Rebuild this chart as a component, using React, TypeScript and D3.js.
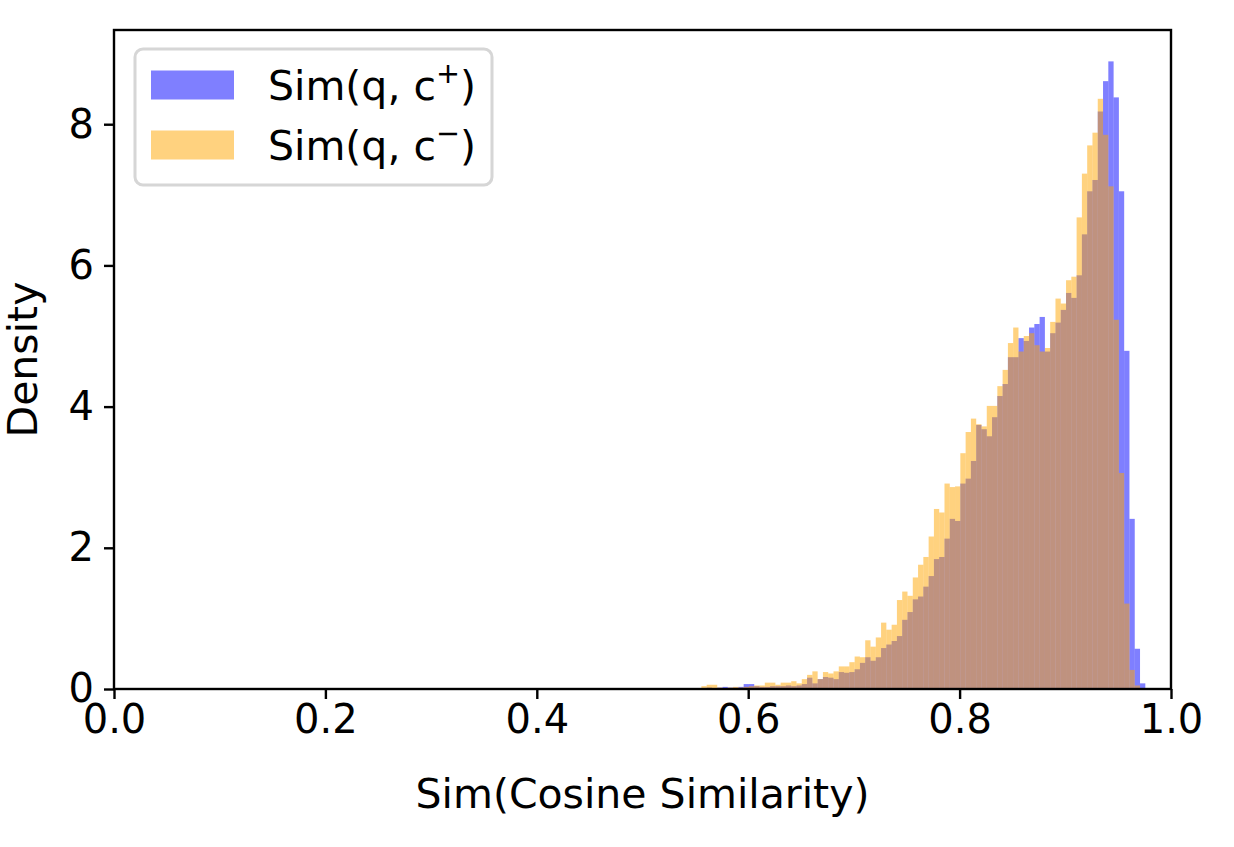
import { useEffect, useRef } from "react";
import * as d3 from "d3";

// histogram bins (shared grid), density per bin, left to right
const BIN_START = 0.5357;
const BIN_WIDTH = 0.005;

const POS_DENSITY = [
  0.01, 0.0, 0.01, 0.01, 0.01, 0.02, 0.01, 0.02, 0.03, 0.02,
  0.02, 0.03, 0.07, 0.07, 0.04, 0.03, 0.03, 0.04, 0.04, 0.04,
  0.05, 0.04, 0.05, 0.07, 0.16, 0.08, 0.14, 0.17, 0.16, 0.14,
  0.24, 0.23, 0.24, 0.28, 0.37, 0.45, 0.4, 0.45, 0.58, 0.63,
  0.68, 0.75, 0.98, 1.09, 1.27, 1.31, 1.45, 1.6, 1.84, 1.87,
  2.13, 2.41, 2.38, 2.91, 2.98, 3.23, 3.74, 3.68, 3.58, 3.85,
  4.15, 4.32, 4.7, 4.7, 4.97, 4.93, 5.12, 5.17, 5.27, 4.78,
  5.04, 5.19, 5.37, 5.61, 5.54, 5.86, 6.44, 7.05, 7.21, 8.18,
  8.61, 8.89, 8.38, 7.05, 4.79, 2.41, 0.57, 0.08,
];

const NEG_DENSITY = [
  0.0, 0.01, 0.01, 0.01, 0.04, 0.06, 0.06, 0.02, 0.01, 0.02,
  0.03, 0.02, 0.03, 0.04, 0.05, 0.05, 0.09, 0.09, 0.06, 0.09,
  0.09, 0.11, 0.08, 0.14, 0.2, 0.25, 0.14, 0.24, 0.22, 0.25,
  0.32, 0.32, 0.38, 0.46, 0.45, 0.69, 0.6, 0.73, 0.94, 0.84,
  0.91, 1.26, 1.38, 1.32, 1.58, 1.76, 1.87, 2.16, 2.55, 2.5,
  2.91, 2.86, 2.87, 3.34, 3.64, 3.83, 3.75, 3.72, 4.01, 4.01,
  4.29, 4.52, 4.9, 5.12, 4.78, 5.0, 5.04, 4.87, 4.78, 4.83,
  5.2, 5.53, 5.46, 5.79, 5.84, 6.68, 7.3, 7.7, 7.88, 8.36,
  7.85, 7.12, 5.23, 3.06, 1.21, 0.27, 0.05, 0.0,
];

const X_TICKS = [0, 0.2, 0.4, 0.6, 0.8, 1.0];
const Y_TICKS = [0, 2, 4, 6, 8];

const SERIES = [
  { name: "pos", values: POS_DENSITY, color: "#0000ff", sign: "+" },
  { name: "neg", values: NEG_DENSITY, color: "#ffa500", sign: "\u2212" },
];

const WIDTH = 1234;
const HEIGHT = 847;
const PLOT = { left: 114, right: 1171, top: 30, bottom: 689 };
const FONT = "DejaVu Sans, Verdana, sans-serif";
const FS = 41;
const TICK_FS = 40;

export default function App() {
  const svgRef = useRef<SVGSVGElement>(null);

  useEffect(() => {
    document.body.style.margin = "0";
    const svgEl = svgRef.current;
    if (!svgEl) return;

    const maxVal = d3.max(POS_DENSITY.concat(NEG_DENSITY))!;
    const x = d3.scaleLinear().domain([0, 1]).range([PLOT.left, PLOT.right]);
    const y = d3
      .scaleLinear()
      .domain([0, maxVal * 1.05])
      .range([PLOT.bottom, PLOT.top]);

    const svg = d3.select(svgEl);
    svg.selectAll("*").remove();

    svg.append("rect").attr("width", WIDTH).attr("height", HEIGHT).attr("fill", "#fff");

    // bars: blue first, orange drawn over it at half opacity
    SERIES.forEach((s) => {
      svg
        .append("g")
        .selectAll("rect")
        .data(s.values)
        .enter()
        .append("rect")
        .attr("x", (_, i) => x(BIN_START + i * BIN_WIDTH))
        .attr("width", x(BIN_WIDTH) - x(0))
        .attr("y", (d) => y(d))
        .attr("height", (d) => y(0) - y(d))
        .attr("fill", s.color)
        .attr("fill-opacity", 0.5);
    });

    // frame
    svg
      .append("rect")
      .attr("x", PLOT.left)
      .attr("y", PLOT.top)
      .attr("width", PLOT.right - PLOT.left)
      .attr("height", PLOT.bottom - PLOT.top)
      .attr("fill", "none")
      .attr("stroke", "#000")
      .attr("stroke-width", 2.4);

    const xAxis = d3
      .axisBottom(x)
      .tickValues(X_TICKS)
      .tickSize(10)
      .tickPadding(6)
      .tickFormat(d3.format(".1f"));
    const gx = svg.append("g").attr("transform", `translate(0,${PLOT.bottom})`).call(xAxis);

    const yAxis = d3
      .axisLeft(y)
      .tickValues(Y_TICKS)
      .tickSize(10)
      .tickPadding(10)
      .tickFormat(d3.format("d"));
    const gy = svg.append("g").attr("transform", `translate(${PLOT.left},0)`).call(yAxis);

    [gx, gy].forEach((g) => {
      g.select(".domain").remove();
      g.selectAll("line").attr("stroke", "#000").attr("stroke-width", 2.4);
      g.selectAll("text")
        .attr("fill", "#000")
        .attr("font-family", FONT)
        .attr("font-size", TICK_FS);
    });

    svg
      .append("text")
      .attr("x", (PLOT.left + PLOT.right) / 2)
      .attr("y", 808)
      .attr("text-anchor", "middle")
      .attr("font-family", FONT)
      .attr("font-size", FS)
      .text("Sim(Cosine Similarity)");

    svg
      .append("text")
      .attr("transform", `translate(37,${(PLOT.top + PLOT.bottom) / 2}) rotate(-90)`)
      .attr("text-anchor", "middle")
      .attr("font-family", FONT)
      .attr("font-size", FS)
      .text("Density");

    // legend
    const lg = svg.append("g");
    lg.append("rect")
      .attr("x", 135)
      .attr("y", 49)
      .attr("width", 357)
      .attr("height", 136)
      .attr("rx", 8)
      .attr("fill", "#fff")
      .attr("fill-opacity", 0.8)
      .attr("stroke", "#d6d6d6")
      .attr("stroke-width", 3);

    SERIES.forEach((s, i) => {
      const cy = 85 + i * 60;
      lg.append("rect")
        .attr("x", 151)
        .attr("y", cy - 14.5)
        .attr("width", 83)
        .attr("height", 29)
        .attr("fill", s.color)
        .attr("fill-opacity", 0.5);
      const t = lg
        .append("text")
        .attr("x", 268)
        .attr("y", cy + 15)
        .attr("font-family", FONT)
        .attr("font-size", FS);
      t.append("tspan").text("Sim(q, c");
      t.append("tspan")
        .attr("font-size", FS * 0.7)
        .attr("dy", -17)
        .text(s.sign);
      t.append("tspan").attr("dy", 17).text(")");
    });
  }, []);

  return (
    <svg
      ref={svgRef}
      width={WIDTH}
      height={HEIGHT}
      style={{ display: "block" }}
    />
  );
}
